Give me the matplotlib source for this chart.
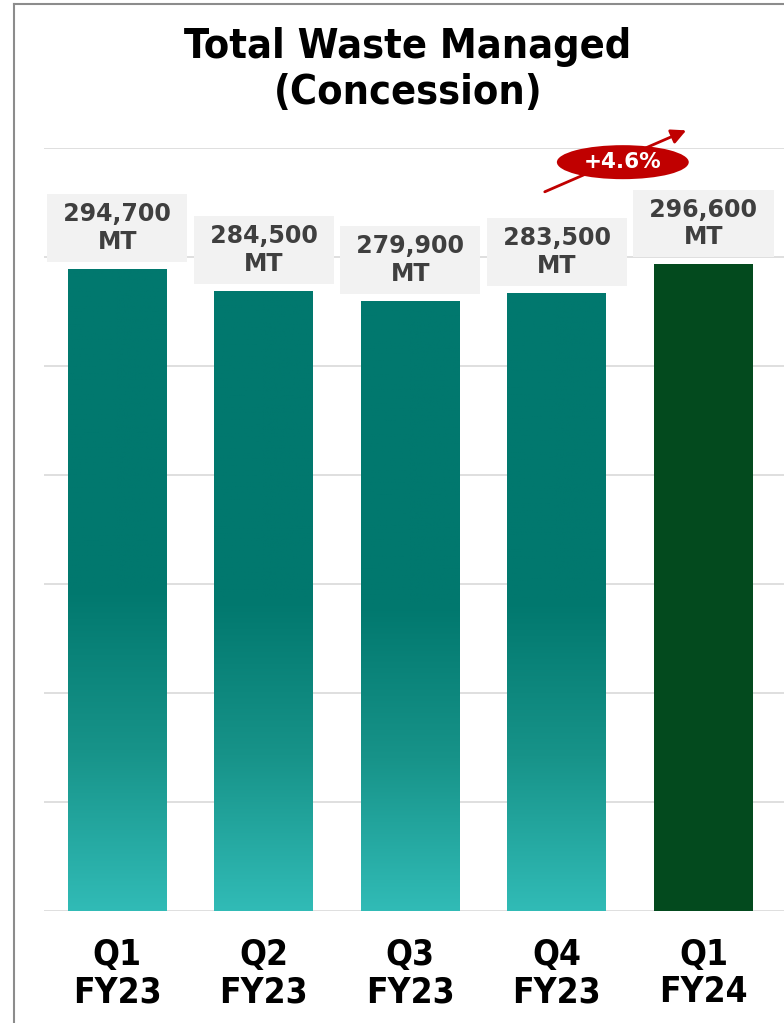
import numpy as np
import matplotlib.pyplot as plt
from matplotlib import font_manager
from matplotlib.colors import LinearSegmentedColormap
from matplotlib.patches import Ellipse
from matplotlib.lines import Line2D

quarters = ["Q1\nFY23", "Q2\nFY23", "Q3\nFY23", "Q4\nFY23", "Q1\nFY24"]
waste_mt = [294700, 284500, 279900, 283500, 296600]
growth_label = "+4.6%"
chart_title = "Total Waste Managed\n(Concession)"


def narrow_bold(size):
    # condensed bold face if one is installed, plain bold otherwise
    for fam, stretch, key in [("DejaVu Sans", "condensed", "Condensed"),
                              ("Liberation Sans Narrow", "condensed", "Narrow")]:
        fp = font_manager.FontProperties(family=fam, stretch=stretch, weight="bold", size=size)
        try:
            path = font_manager.findfont(fp, fallback_to_default=False)
        except ValueError:
            continue
        if key in path:
            return fp
    return font_manager.FontProperties(family="DejaVu Sans", weight="bold", size=size * 0.9)


teal = LinearSegmentedColormap.from_list(
    "teal", [(0.0, "#31BBB6"), (0.25, "#179389"), (0.5, "#01786E"), (1.0, "#01786E")])

fig = plt.figure(figsize=(7.84, 10.23), dpi=100)
ax = fig.add_axes([44 / 784, 112 / 1023, 740 / 784, 763 / 1023])

bars = ax.bar(range(len(waste_mt)), waste_mt, width=0.675, color="#034A1E", zorder=2)
grad = np.linspace(0, 1, 256).reshape(-1, 1)
for bar in bars[:-1]:
    x0, w, h = bar.get_x(), bar.get_width(), bar.get_height()
    bar.set_facecolor("none")
    im = ax.imshow(grad, cmap=teal, origin="lower", aspect="auto",
                   extent=(x0, x0 + w, 0, h), zorder=2)
    im.set_clip_path(bar)

for i, v in enumerate(waste_mt):
    ax.annotate(f" {v:,} \nMT", xy=(i, v), xytext=(0, 10.8), textcoords="offset points",
                ha="center", va="bottom", fontsize=17, fontweight="bold", color="#3F3F3F",
                bbox=dict(boxstyle="square,pad=0.34", fc="#F2F2F2", ec="none"), zorder=3)

ax.set_xlim(-0.5, 4.55)
ax.set_ylim(0, 350000)
ax.set_yticks(np.arange(0, 350001, 50000))
ax.grid(axis="y", color="#D9D9D9", linewidth=1.2, zorder=0)
ax.set_axisbelow(True)
ax.tick_params(left=False, labelleft=False, bottom=False, pad=16)
ax.set_xticks(range(len(quarters)), quarters)
tick_fp = narrow_bold(25.3)
for lbl in ax.get_xticklabels():
    lbl.set_fontproperties(tick_fp)
    lbl.set_color("black")
    lbl.set_linespacing(1.12)
for s in ax.spines.values():
    s.set_visible(False)

# growth marker
ax.annotate("", xy=(3.9, 358600), xytext=(2.9, 329400),
            arrowprops=dict(arrowstyle="-|>", color="#C00000", lw=2, mutation_scale=22),
            annotation_clip=False, zorder=4)
ax.add_patch(Ellipse((3.45, 343500), 0.9, 15600, fc="#C00000", ec="none", clip_on=False, zorder=5))
ax.text(3.45, 343500, growth_label, ha="center", va="center", fontsize=15.5,
        fontweight="bold", color="white", zorder=6)

fig.text(408 / 784, 1 - 27 / 1023, chart_title, ha="center", va="top",
         fontproperties=narrow_bold(29.7), color="black", linespacing=1.18)

# outer frame
fig.add_artist(Line2D([14 / 784, 14 / 784], [0, 1 - 4 / 1023], transform=fig.transFigure,
                      color="#8C8C8C", lw=1.5))
fig.add_artist(Line2D([14 / 784, 1], [1 - 4 / 1023, 1 - 4 / 1023], transform=fig.transFigure,
                      color="#8C8C8C", lw=1.5))

fig.savefig("out.png", dpi=100)
